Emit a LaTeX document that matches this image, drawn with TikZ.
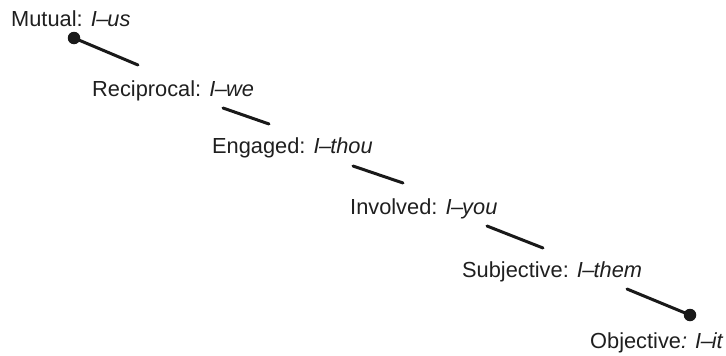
\documentclass[tikz,border=0pt]{standalone}
\usepackage{fontspec}
\setmainfont{Liberation Sans}
\begin{document}
\begin{tikzpicture}[x=1pt,y=-1pt,
  lbl/.style={anchor=base west,inner sep=0pt,text=black!88,font=\fontsize{21.8}{24}\selectfont},
  seg/.style={line width=3pt,draw=black!90,line cap=round},
  dotmark/.style={circle,fill=black!90,minimum size=12.5pt,inner sep=0pt}]
\useasboundingbox (0,0) rectangle (726,356);
\newcommand{\Idash}[1]{\textit{I\kern-0.5pt--\kern-1pt#1}}
\node[lbl] (mutual) at (11,27) {Mutual: \Idash{us}};
\node[lbl] (recip) at (92,96) {Reciprocal: \Idash{we}};
\node[lbl] (engaged) at (212,153) {Engaged: \Idash{thou}};
\node[lbl] (involved) at (350,214) {Involved: \Idash{you}};
\node[lbl] (subj) at (462,277) {Subjective: \Idash{them}};
\node[lbl] (obj) at (590,348) {Objective\textit{:} \Idash{it}};
\node[dotmark] (d1) at (74,38) {};
\node[dotmark] (d2) at (690,315) {};
\coordinate (a1) at (138,65);
\coordinate (b1) at (223,108);
\coordinate (b2) at (269,124);
\coordinate (c1) at (353,166);
\coordinate (c2) at (403,183);
\coordinate (e1) at (487,226);
\coordinate (e2) at (543,248);
\coordinate (f1) at (627,289);
\draw[seg] (d1.center) -- (a1);
\draw[seg] (b1) -- (b2);
\draw[seg] (c1) -- (c2);
\draw[seg] (e1) -- (e2);
\draw[seg] (f1) -- (d2.center);
\end{tikzpicture}
\end{document}
